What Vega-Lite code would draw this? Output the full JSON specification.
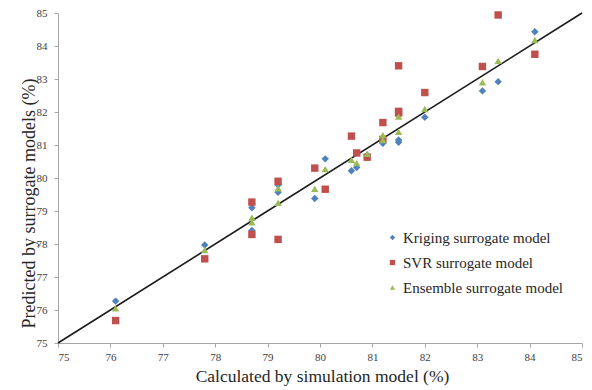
{
  "$schema": "https://vega.github.io/schema/vega-lite/v6.json",
  "autosize": {"type": "none"},
  "width": 524,
  "height": 330,
  "padding": {"left": 58, "top": 13, "right": 10, "bottom": 47},
  "background": "white",
  "config": {
    "font": "Liberation Serif",
    "view": {"stroke": null},
    "axis": {
      "grid": false,
      "labelFont": "Liberation Serif",
      "labelFontSize": 11,
      "labelColor": "#404040",
      "labelOverlap": false,
      "domainColor": "#a6a6a6",
      "tickColor": "#a6a6a6",
      "tickSize": 4,
      "titleFont": "Liberation Serif",
      "titleFontWeight": "normal",
      "titleColor": "#262626"
    },
    "legend": {
      "labelFont": "Liberation Serif",
      "labelFontSize": 15,
      "labelColor": "#262626"
    }
  },
  "datasets": {
    "pts": [
      {"sim": 76.1, "pred": 76.27, "model": "Kriging surrogate model"},
      {"sim": 77.8, "pred": 77.97, "model": "Kriging surrogate model"},
      {"sim": 78.7, "pred": 79.10, "model": "Kriging surrogate model"},
      {"sim": 78.7, "pred": 78.41, "model": "Kriging surrogate model"},
      {"sim": 79.2, "pred": 79.79, "model": "Kriging surrogate model"},
      {"sim": 79.2, "pred": 79.57, "model": "Kriging surrogate model"},
      {"sim": 79.9, "pred": 79.38, "model": "Kriging surrogate model"},
      {"sim": 80.1, "pred": 80.58, "model": "Kriging surrogate model"},
      {"sim": 80.6, "pred": 80.22, "model": "Kriging surrogate model"},
      {"sim": 80.7, "pred": 80.32, "model": "Kriging surrogate model"},
      {"sim": 80.9, "pred": 80.70, "model": "Kriging surrogate model"},
      {"sim": 81.2, "pred": 81.07, "model": "Kriging surrogate model"},
      {"sim": 81.2, "pred": 81.05, "model": "Kriging surrogate model"},
      {"sim": 81.5, "pred": 81.15, "model": "Kriging surrogate model"},
      {"sim": 81.5, "pred": 81.08, "model": "Kriging surrogate model"},
      {"sim": 82.0, "pred": 81.84, "model": "Kriging surrogate model"},
      {"sim": 83.1, "pred": 82.64, "model": "Kriging surrogate model"},
      {"sim": 83.4, "pred": 82.92, "model": "Kriging surrogate model"},
      {"sim": 84.1, "pred": 84.43, "model": "Kriging surrogate model"},
      {"sim": 76.1, "pred": 75.68, "model": "SVR surrogate model"},
      {"sim": 77.8, "pred": 77.55, "model": "SVR surrogate model"},
      {"sim": 78.7, "pred": 79.27, "model": "SVR surrogate model"},
      {"sim": 78.7, "pred": 78.29, "model": "SVR surrogate model"},
      {"sim": 79.2, "pred": 79.90, "model": "SVR surrogate model"},
      {"sim": 79.2, "pred": 78.14, "model": "SVR surrogate model"},
      {"sim": 79.9, "pred": 80.30, "model": "SVR surrogate model"},
      {"sim": 80.1, "pred": 79.66, "model": "SVR surrogate model"},
      {"sim": 80.6, "pred": 81.27, "model": "SVR surrogate model"},
      {"sim": 80.7, "pred": 80.76, "model": "SVR surrogate model"},
      {"sim": 80.9, "pred": 80.63, "model": "SVR surrogate model"},
      {"sim": 81.2, "pred": 81.68, "model": "SVR surrogate model"},
      {"sim": 81.2, "pred": 81.17, "model": "SVR surrogate model"},
      {"sim": 81.5, "pred": 83.40, "model": "SVR surrogate model"},
      {"sim": 81.5, "pred": 82.02, "model": "SVR surrogate model"},
      {"sim": 81.5, "pred": 81.97, "model": "SVR surrogate model"},
      {"sim": 82.0, "pred": 82.59, "model": "SVR surrogate model"},
      {"sim": 83.1, "pred": 83.38, "model": "SVR surrogate model"},
      {"sim": 83.4, "pred": 84.94, "model": "SVR surrogate model"},
      {"sim": 84.1, "pred": 83.75, "model": "SVR surrogate model"},
      {"sim": 76.1, "pred": 76.05, "model": "Ensemble surrogate model"},
      {"sim": 77.8, "pred": 77.82, "model": "Ensemble surrogate model"},
      {"sim": 78.7, "pred": 78.80, "model": "Ensemble surrogate model"},
      {"sim": 78.7, "pred": 78.66, "model": "Ensemble surrogate model"},
      {"sim": 79.2, "pred": 79.69, "model": "Ensemble surrogate model"},
      {"sim": 79.2, "pred": 79.25, "model": "Ensemble surrogate model"},
      {"sim": 79.9, "pred": 79.67, "model": "Ensemble surrogate model"},
      {"sim": 80.1, "pred": 80.27, "model": "Ensemble surrogate model"},
      {"sim": 80.6, "pred": 80.55, "model": "Ensemble surrogate model"},
      {"sim": 80.7, "pred": 80.45, "model": "Ensemble surrogate model"},
      {"sim": 80.9, "pred": 80.73, "model": "Ensemble surrogate model"},
      {"sim": 81.2, "pred": 81.30, "model": "Ensemble surrogate model"},
      {"sim": 81.2, "pred": 81.15, "model": "Ensemble surrogate model"},
      {"sim": 81.5, "pred": 81.86, "model": "Ensemble surrogate model"},
      {"sim": 81.5, "pred": 81.40, "model": "Ensemble surrogate model"},
      {"sim": 82.0, "pred": 82.09, "model": "Ensemble surrogate model"},
      {"sim": 83.1, "pred": 82.90, "model": "Ensemble surrogate model"},
      {"sim": 83.4, "pred": 83.55, "model": "Ensemble surrogate model"},
      {"sim": 84.1, "pred": 84.18, "model": "Ensemble surrogate model"}
    ],
    "diag": [
      {"sim": 75, "pred": 75},
      {"sim": 85, "pred": 85}
    ]
  },
  "encoding": {
    "x": {
      "field": "sim", "type": "quantitative",
      "scale": {"domain": [75, 85], "nice": false, "zero": false},
      "axis": {
        "title": "Calculated by simulation model (%)",
        "values": [75, 76, 77, 78, 79, 80, 81, 82, 83, 84, 85],
        "labelOverlap": false,
        "labelPadding": 4,
        "titleFontSize": 17.5,
        "titleBaseline": "alphabetic",
        "titleX": 264,
        "titleY": 38,
        "encode": {"labels": {"update": {"font": {"value": "Liberation Serif"}}}}
      }
    },
    "y": {
      "field": "pred", "type": "quantitative",
      "scale": {"domain": [75, 85], "nice": false, "zero": false},
      "axis": {
        "title": "Predicted by surrogate models (%)",
        "values": [75, 76, 77, 78, 79, 80, 81, 82, 83, 84, 85],
        "labelOverlap": false,
        "labelPadding": 7,
        "titleFontSize": 18,
        "titleAngle": 270,
        "titleAlign": "center",
        "titleBaseline": "middle",
        "titleX": -29,
        "titleY": 190,
        "encode": {"labels": {"update": {"font": {"value": "Liberation Serif"}}}}
      }
    }
  },
  "layer": [
    {
      "data": {"name": "diag"},
      "mark": {"type": "line", "color": "#1a1a1a", "strokeWidth": 1.6}
    },
    {
      "data": {"name": "pts"},
      "mark": {"type": "point", "filled": true, "opacity": 1, "size": 55},
      "encoding": {
        "color": {
          "field": "model", "type": "nominal",
          "scale": {
            "domain": ["Kriging surrogate model", "SVR surrogate model", "Ensemble surrogate model"],
            "range": ["#4f81bd", "#c0504d", "#9bbb59"]
          },
          "legend": {
            "title": null,
            "orient": "none",
            "legendX": 327,
            "legendY": 217,
            "padding": 0,
            "symbolSize": 28,
            "labelOffset": 3,
            "rowPadding": 9,
            "encode": {"labels": {"update": {"font": {"value": "Liberation Serif"}, "fontSize": {"value": 15}}}}
          }
        },
        "shape": {
          "field": "model", "type": "nominal",
          "scale": {
            "domain": ["Kriging surrogate model", "SVR surrogate model", "Ensemble surrogate model"],
            "range": ["diamond", "square", "triangle-up"]
          },
          "legend": null
        }
      }
    }
  ]
}
